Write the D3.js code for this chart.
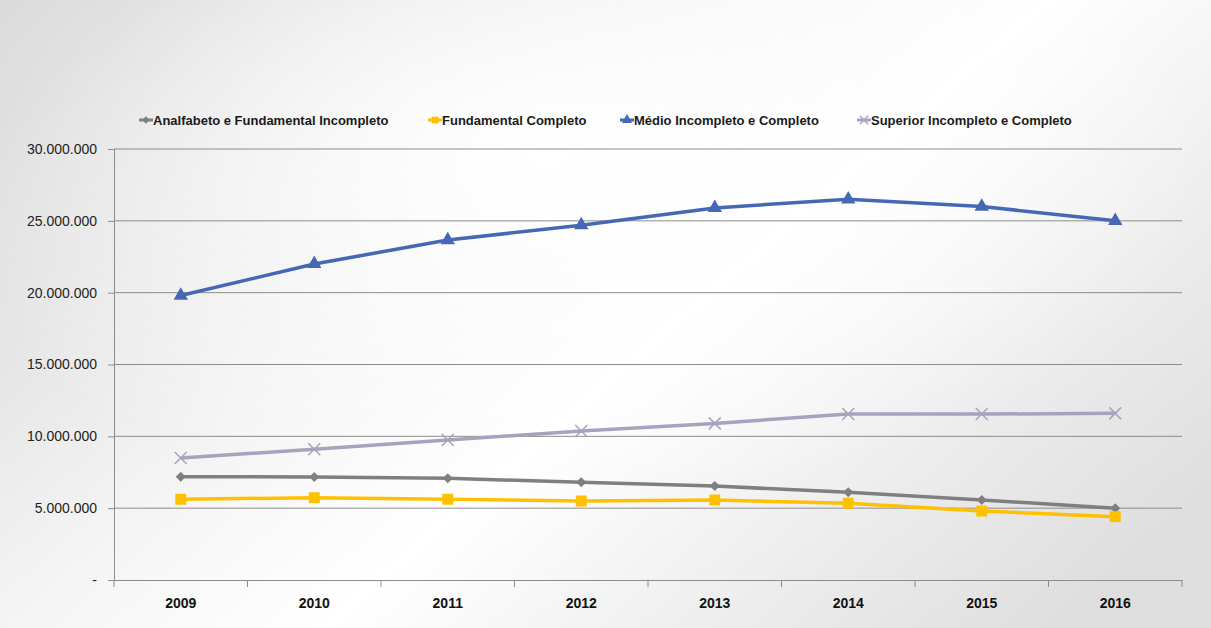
<!DOCTYPE html>
<html>
<head>
<meta charset="utf-8">
<script src="https://cdn.jsdelivr.net/npm/d3@7"></script>
<style>
  body { margin: 0; background: #fff; }
  text { font-family: "Liberation Sans", Arial, sans-serif; }
</style>
</head>
<body>
<script>
var years = ["2009", "2010", "2011", "2012", "2013", "2014", "2015", "2016"];
var seriesNames = ["Analfabeto e Fundamental Incompleto", "Fundamental Completo",
                   "Médio Incompleto e Completo", "Superior Incompleto e Completo"];
var analfabeto = [7190000, 7170000, 7080000, 6800000, 6540000, 6100000, 5570000, 4990000];
var fundamental = [5620000, 5730000, 5620000, 5500000, 5570000, 5340000, 4800000, 4410000];
var medio = [19800000, 22000000, 23660000, 24700000, 25900000, 26500000, 26000000, 25000000];
var superior = [8490000, 9100000, 9740000, 10370000, 10900000, 11550000, 11550000, 11600000];
var yTicks = [0, 5000000, 10000000, 15000000, 20000000, 25000000, 30000000];

var colors = ["#7f7f7f", "#ffc000", "#4668b4", "#a5a3bd"];
var symbols = [d3.symbolSquare, d3.symbolSquare, d3.symbolTriangle, d3.symbolCross];
var rotate = [45, 0, 0, 0];
var allSeries = [analfabeto, fundamental, medio, superior];

var W = 1211, H = 628;
var margin = {top: 149, left: 114, bottom: 48, right: 29};
var width = W - margin.left - margin.right;
var height = H - margin.top - margin.bottom;

var svg = d3.select("body").append("svg")
  .attr("width", W).attr("height", H);

// background
var defs = svg.append("defs");
var g1 = defs.append("linearGradient").attr("id", "bg")
  .attr("x1", "0").attr("y1", "0.2").attr("x2", "1").attr("y2", "0.8");
g1.append("stop").attr("offset", "0").attr("stop-color", "#d8d8d8");
g1.append("stop").attr("offset", "0.35").attr("stop-color", "#f4f4f4");
g1.append("stop").attr("offset", "0.55").attr("stop-color", "#ffffff");
g1.append("stop").attr("offset", "0.8").attr("stop-color", "#ececec");
g1.append("stop").attr("offset", "1").attr("stop-color", "#dedede");
svg.append("rect").attr("x", 0).attr("y", 0).attr("width", W).attr("height", H).attr("fill", "url(#bg)");
var g2 = defs.append("radialGradient").attr("id", "glow")
  .attr("cx", "0.45").attr("cy", "0.25").attr("r", "0.55");
g2.append("stop").attr("offset", "0").attr("stop-color", "#fff").attr("stop-opacity", 1);
g2.append("stop").attr("offset", "1").attr("stop-color", "#fff").attr("stop-opacity", 0);
svg.append("rect").attr("x", 0).attr("y", 0).attr("width", W).attr("height", H).attr("fill", "url(#glow)");

var chart = svg.append("g")
  .attr("transform", "translate(" + margin.left + "," + margin.top + ")");

var x = d3.scaleBand().domain(years).range([0, width]);
var y = d3.scaleLinear().domain([0, 30000000]).range([height, 0]);

var fmt = function(d) {
  if (d === 0) return "-";
  return d3.format(",")(d).replace(/,/g, ".");
};

// gridlines
chart.append("g").selectAll("line").data(yTicks.filter(function(d) { return d > 0; }))
  .enter().append("line")
  .attr("x1", 0).attr("x2", width)
  .attr("y1", function(d) { return y(d); })
  .attr("y2", function(d) { return y(d); })
  .attr("stroke", "#8c8c8c").attr("stroke-width", 1);

// y axis
var yAxis = chart.append("g")
  .call(d3.axisLeft(y).tickValues(yTicks).tickFormat(fmt).tickSize(6).tickPadding(11));
yAxis.select(".domain").attr("stroke", "#8c8c8c");
yAxis.selectAll(".tick line").attr("stroke", "#8c8c8c");
yAxis.selectAll("text").attr("font-size", 14).attr("fill", "#222");
chart.append("line").attr("x1", 0).attr("x2", 0).attr("y1", height).attr("y2", height + 7)
  .attr("stroke", "#8c8c8c");

// x axis
var xAxis = chart.append("g").attr("transform", "translate(0," + height + ")")
  .call(d3.axisBottom(x).tickSize(0).tickPadding(18));
xAxis.select(".domain").attr("stroke", "#8c8c8c");
xAxis.selectAll("text").attr("font-size", 14).attr("font-weight", "bold").attr("fill", "#111");
chart.append("g").selectAll("line").data(years)
  .enter().append("line")
  .attr("x1", function(d) { return x(d) + x.bandwidth(); })
  .attr("x2", function(d) { return x(d) + x.bandwidth(); })
  .attr("y1", height).attr("y2", height + 7)
  .attr("stroke", "#8c8c8c");

// lines
var line = d3.line()
  .x(function(d, i) { return x(years[i]) + x.bandwidth() / 2; })
  .y(function(d) { return y(d); });

var xPath = "M-6,-6L6,6M-6,6L6,-6";
var markerSize = [50, 120, 90, 0];

allSeries.forEach(function(vals, i) {
  chart.append("path").datum(vals)
    .attr("d", line)
    .attr("fill", "none")
    .attr("stroke", colors[i])
    .attr("stroke-width", 3.5);
  var pts = chart.append("g").selectAll("path").data(vals).enter().append("path")
    .attr("transform", function(d, j) {
      return "translate(" + (x(years[j]) + x.bandwidth() / 2) + "," + y(d) + ") rotate(" + rotate[i] + ")";
    });
  if (i === 3) {
    pts.attr("d", xPath).attr("stroke", colors[i]).attr("stroke-width", 1.5).attr("fill", "none");
  } else {
    pts.attr("d", d3.symbol().type(symbols[i]).size(markerSize[i])()).attr("fill", colors[i]);
  }
});

// legend
var legendX = [139, 428, 620, 857];
var legend = svg.append("g");
seriesNames.forEach(function(name, i) {
  var lg = legend.append("g").attr("transform", "translate(" + legendX[i] + ",120)");
  lg.append("line").attr("x1", 0).attr("x2", 14).attr("y1", 0).attr("y2", 0)
    .attr("stroke", colors[i]).attr("stroke-width", 3);
  if (i === 3) {
    lg.append("path").attr("transform", "translate(7,0) scale(0.7)").attr("d", xPath)
      .attr("stroke", colors[i]).attr("stroke-width", 2).attr("fill", "none");
  } else {
    lg.append("path").attr("transform", "translate(7,0) rotate(" + rotate[i] + ")")
      .attr("d", d3.symbol().type(symbols[i]).size(i === 0 ? 30 : 45)()).attr("fill", colors[i]);
  }
  lg.append("text").attr("x", 14).attr("y", 5)
    .attr("font-size", 13).attr("font-weight", "bold").attr("fill", "#1a1a1a")
    .text(name);
});
</script>
</body>
</html>
